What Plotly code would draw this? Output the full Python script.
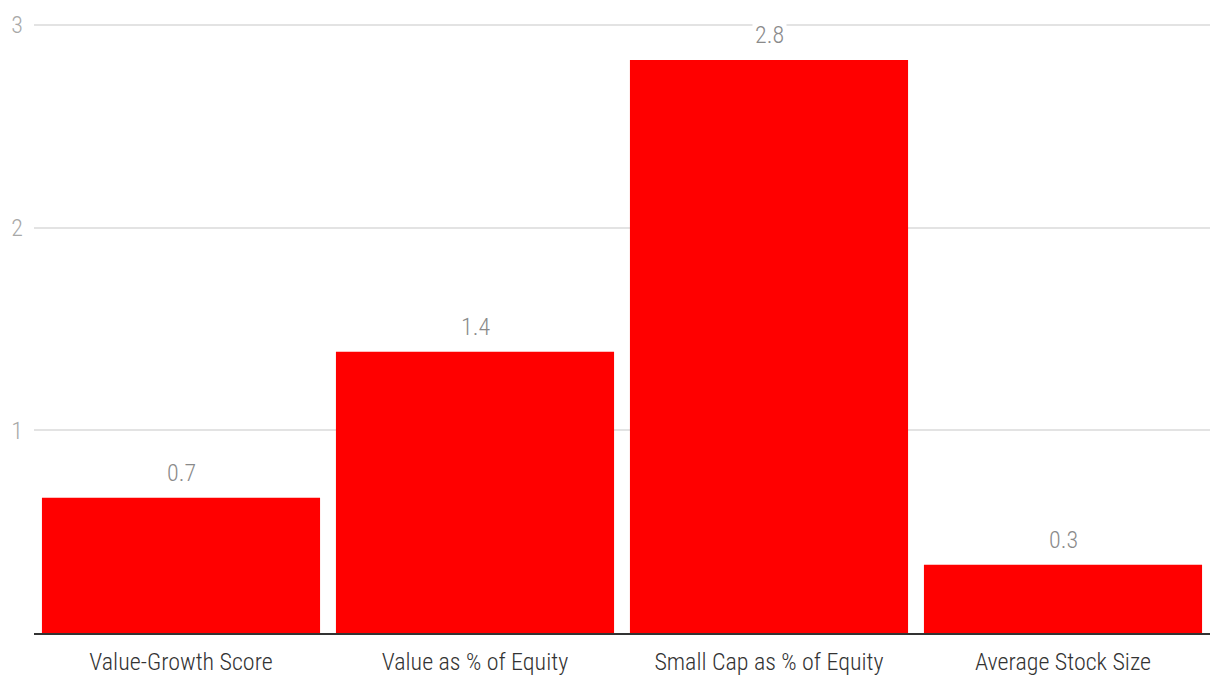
import plotly.graph_objects as go

categories = ["Value-Growth Score", "Value as % of Equity", "Small Cap as % of Equity", "Average Stock Size"]
values = [0.667, 1.388, 2.828, 0.337]
labels = [f"{v:.1f}" for v in values]

FONT = "Roboto Condensed, Liberation Sans Narrow, Roboto, sans-serif"

fig = go.Figure(go.Bar(x=categories, y=values, marker=dict(color="#ff0000", line=dict(width=0)),
                       hoverinfo="skip"))

for c, v, t in zip(categories, values, labels):
    fig.add_annotation(x=c, y=v, text=t, showarrow=False, yanchor="bottom", yshift=8,
                       bgcolor="white", borderpad=2,
                       font=dict(family=FONT, size=24, color="#8a8a8a", weight=300))

fig.update_layout(
    width=1204, height=676,
    margin=dict(l=26, r=2, t=13, b=51),
    paper_bgcolor="white", plot_bgcolor="white",
    bargap=0.054,
    showlegend=False,
    font=dict(family=FONT, size=24, weight=300),
    xaxis=dict(showgrid=False, showline=True, linecolor="#333333", linewidth=2, automargin=False,
               ticks="", ticklabelstandoff=6,
               tickfont=dict(family=FONT, size=24, color="#333333", weight=300)),
    yaxis=dict(range=[0, 3.02], tickvals=[1, 2, 3], showgrid=True, gridcolor="#e3e3e3", gridwidth=2,
               automargin=False, zeroline=False, ticks="", ticklabelstandoff=10,
               tickfont=dict(family=FONT, size=24, color="#a8a8a8", weight=300)),
)

fig.write_html("out.html")
